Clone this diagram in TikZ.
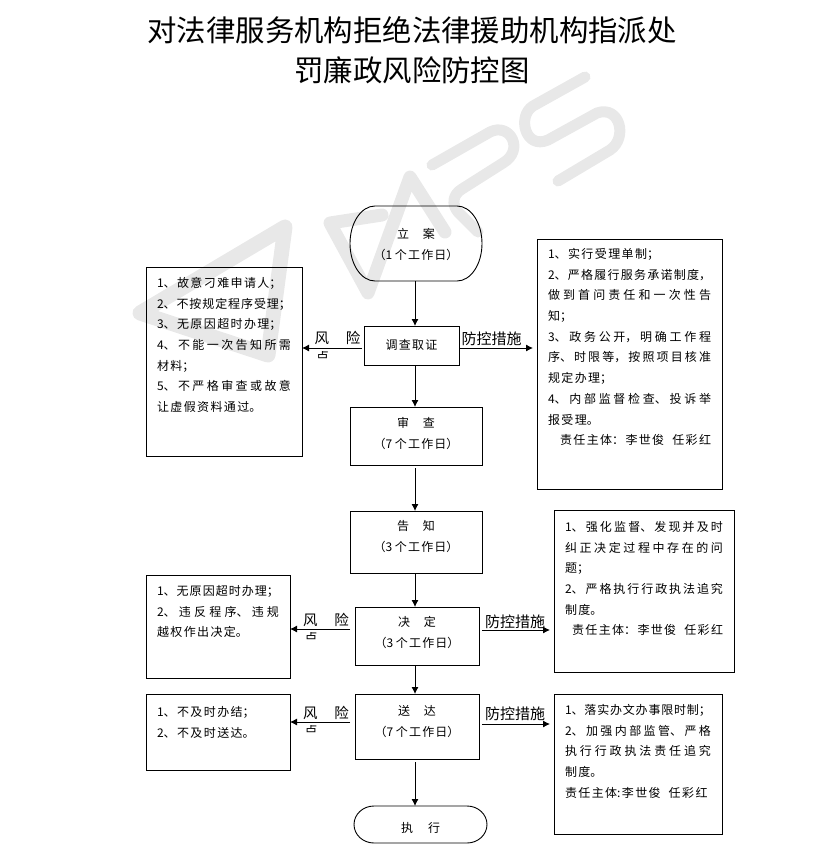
\documentclass[tikz,border=0pt]{standalone}
\usepackage{fontspec}
\usetikzlibrary{arrows.meta}
\setmainfont{Noto Sans CJK SC}
\XeTeXlinebreaklocale "zh"
\newcommand{\listtext}[4]{\parbox[t][#2][t]{#1}{\fontsize{12}{20.7}\selectfont
  \XeTeXlinebreakskip=1.4pt plus 3pt minus 1.4pt\relax\tolerance=9999
  \leftskip=11pt\relax\rightskip=11pt\relax\parindent=0pt
  \vspace*{#3}\strut #4}}
\newcommand{\steptext}[4]{\parbox[t][#2][t]{#1}{\fontsize{12}{20.7}\selectfont
  \XeTeXlinebreakskip=1.2pt\relax\centering
  \vspace*{#3}\strut #4}}
\tikzset{
  listbox/.style={draw, line width=0.9pt, anchor=north west, inner sep=0pt, outer sep=0pt},
  stepbox/.style={listbox},
  endbox/.style={anchor=north west, inner sep=0pt, outer sep=0pt},
  flowarrow/.style={-{Latex[length=7pt,width=7pt]}, line width=0.9pt},
  riskword/.style={font=\fontsize{14.5}{16}\selectfont, inner sep=0pt},
  guardword/.style={font=\fontsize{15}{16}\selectfont, inner sep=0pt},
  logoline/.style={draw=black!9, line cap=round, line join=round}
}
\begin{document}
\begin{tikzpicture}[x=1pt, y=-1pt]
  \useasboundingbox (0,0) rectangle (823,860);

  % watermark
  \draw[logoline, line width=15pt] (140,313) -- (285,227) -- (268,355) -- cycle;
  \draw[logoline, line width=13pt] (382,215) -- (330,223) -- (368,293) -- (410,177) -- (445,232);
  \draw[logoline, line width=11pt] (432,165) -- (490,132) .. controls (510,122) and (525,150) .. (503,163)
    -- (462,189) .. controls (452,195) and (452,205) .. (458,212) -- (478,232);
  \draw[logoline, line width=11pt] (585,77) -- (533,106) .. controls (517,116) and (525,150) .. (548,140)
    -- (597,113) .. controls (620,105) and (628,138) .. (610,150) -- (558,181);

  \node[font=\fontsize{29.4}{40}\selectfont, align=center, inner sep=0pt] (title) at (412,50)
    {对法律服务机构拒绝法律援助机构指派处\\罚廉政风险防控图};

  % main steps
  \node[endbox] (liaoan) at (350,206) {\steptext{132pt}{75pt}{18pt}{立\hspace{14pt}案\\（1 个工作日）}};
  \node[stepbox] (diaocha) at (364,326) {\steptext{95pt}{39pt}{9pt}{调查取证}};
  \node[stepbox] (shencha) at (350,407) {\steptext{132pt}{58pt}{6pt}{审\hspace{14pt}查\\（7 个工作日）}};
  \node[stepbox] (gaozhi) at (350,511) {\steptext{132pt}{62pt}{5pt}{告\hspace{14pt}知\\（3 个工作日）}};
  \node[stepbox] (jueding) at (355,607) {\steptext{124pt}{58pt}{5pt}{决\hspace{14pt}定\\（3 个工作日）}};
  \node[stepbox] (songda) at (355,694) {\steptext{124pt}{65pt}{7pt}{送\hspace{14pt}达\\（7 个工作日）}};
  \node[endbox] (zhixing) at (354,806) {\steptext{133pt}{37pt}{12pt}{执\hspace{15pt}行}};

  \foreach \nodename/\bulge/\halfh in {liaoan/25/37.5,zhixing/20/18.5}{
    \draw[line width=0.9pt] ([xshift=\bulge pt]\nodename.north west) -- ([xshift=-\bulge pt]\nodename.north east)
      arc[start angle=90, end angle=-90, x radius=\bulge pt, y radius=\halfh pt]
      -- ([xshift=\bulge pt]\nodename.south west)
      arc[start angle=270, end angle=90, x radius=\bulge pt, y radius=\halfh pt];
  }

  % risk boxes
  \node[listbox] (risk1) at (146,267) {\listtext{156pt}{189pt}{6pt}{1、故意刁难申请人；\par
    2、不按规定程序受理；\par
    3、无原因超时办理；\par
    4、不能一次告知所需\linebreak 材料；\par
    5、不严格审查或故意\linebreak 让虚假资料通过。}};
  \node[listbox] (risk2) at (146,575) {\listtext{144pt}{103pt}{6pt}{1、无原因超时办理；\par
    2、违反程序、违规\linebreak 越权作出决定。}};
  \node[listbox] (risk3) at (146,694) {\listtext{144pt}{76pt}{8pt}{1、不及时办结；\par
    2、不及时送达。}};

  % control boxes
  \node[listbox] (guard1) at (537,239) {\listtext{185pt}{250pt}{5pt}{1、实行受理单制；\par
    2、严格履行服务承诺制度，\linebreak 做到首问责任和一次性告\linebreak 知；\par
    3、政务公开，明确工作程\linebreak 序、时限等，按照项目核准\linebreak 规定办理；\par
    4、内部监督检查、投诉举\linebreak 报受理。\par
    \hspace*{12pt}责任主体：李世俊\hspace{8pt}任彩红}};
  \node[listbox] (guard2) at (554,510) {\listtext{180pt}{162pt}{7pt}{1、强化监督、发现并及时\linebreak 纠正决定过程中存在的问\linebreak 题；\par
    2、严格执行行政执法追究\linebreak 制度。\par
    \hspace*{7pt}责任主体：李世俊\hspace{8pt}任彩红}};
  \node[listbox] (guard3) at (554,694) {\listtext{168pt}{140pt}{6pt}{1、落实办文办事限时制；\par
    2、加强内部监管、严格\linebreak 执行行政执法责任追究\linebreak 制度。\par
    责任主体:李世俊\hspace{8pt}任彩红}};

  % connectors
  \coordinate (spine) at (415,0);
  \foreach \from/\to/\gap in {liaoan/diaocha/0,diaocha/shencha/1,shencha/gaozhi/3,gaozhi/jueding/0,jueding/songda/0,songda/zhixing/3}{
    \draw[flowarrow, shorten <=\gap pt] (spine |- \from.south) -- (spine |- \to.north);
  }
  \foreach \from/\to/\y/\gap in {diaocha/risk1/348/2,jueding/risk2/629/5,songda/risk3/722/5}{
    \draw[flowarrow, shorten <=\gap pt] (\from.west |- 0,\y) -- (\to.east |- 0,\y);
  }
  \foreach \from/\to/\y/\gap in {diaocha/guard1/348/0,jueding/guard2/630/3,songda/guard3/724/3}{
    \draw[flowarrow, shorten <=\gap pt, shorten >=4pt] (\from.east |- 0,\y) -- (\to.west |- 0,\y);
  }

  % arrow labels
  \foreach \i/\x/\y in {1/337.5/338,2/326/619.5,3/326/712.5}{
    \node[riskword] (riskword\i) at (\x,\y) {风\hspace{17pt}险};
  }
  \foreach \i/\x/\y in {1/491.5/338.5,2/515/621.5,3/515/713.5}{
    \node[guardword] (guardword\i) at (\x,\y) {防控措施};
  }
  \foreach \i/\x/\y in {1/322.5/351,2/311/632,3/311/725}{
    \begin{scope}
      \clip (\x-7,\y) rectangle (\x+7,\y+7);
      \node[font=\fontsize{13}{14}\selectfont, anchor=north, inner sep=0pt] (riskdot\i) at (\x,\y-1) {点};
    \end{scope}
  }
\end{tikzpicture}
\end{document}
